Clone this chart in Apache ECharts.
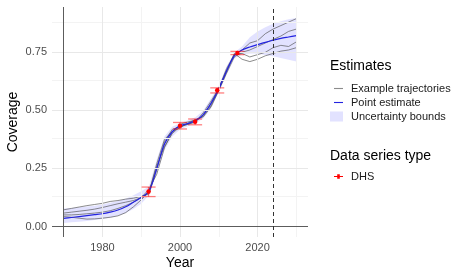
<!DOCTYPE html>
<html>
<head>
<meta charset="utf-8">
<script src="https://cdn.jsdelivr.net/npm/echarts@6/dist/echarts.min.js"></script>
<style>
  html, body { margin: 0; padding: 0; background: #fff; }
  #main { width: 468px; height: 278px; }
</style>
</head>
<body>
<div id="main"></div>
<script>
// estimate grid (every 2 years)
const years = [1970, 1972, 1974, 1976, 1978, 1980, 1982, 1984, 1986, 1988, 1990, 1992, 1994, 1996, 1998, 2000,
  2002, 2004, 2006, 2008, 2010, 2012, 2014, 2016, 2018, 2020, 2022, 2024, 2026, 2028, 2030];

const pointEstimate = [0.035, 0.039, 0.043, 0.047, 0.051, 0.055, 0.062, 0.071, 0.085, 0.105, 0.125, 0.152, 0.250,
  0.355, 0.408, 0.434, 0.443, 0.456, 0.482, 0.530, 0.592, 0.670, 0.735, 0.760, 0.773, 0.783, 0.793, 0.802, 0.810, 0.816, 0.822];

const boundLower = [0.015, 0.018, 0.021, 0.024, 0.028, 0.032, 0.038, 0.046, 0.058, 0.075, 0.098, 0.135, 0.228,
  0.328, 0.388, 0.418, 0.432, 0.445, 0.465, 0.508, 0.578, 0.652, 0.722, 0.742, 0.745, 0.745, 0.738, 0.733, 0.726, 0.718, 0.710];
const boundUpper = [0.078, 0.080, 0.083, 0.086, 0.090, 0.095, 0.102, 0.110, 0.120, 0.135, 0.152, 0.172, 0.288,
  0.388, 0.430, 0.446, 0.456, 0.470, 0.500, 0.552, 0.606, 0.690, 0.748, 0.775, 0.815, 0.840, 0.858, 0.873, 0.884, 0.892, 0.898];

const trajA = [0.072, 0.078, 0.084, 0.090, 0.095, 0.100, 0.108, 0.112, 0.118, 0.122, 0.130, 0.140, 0.245, 0.365,
  0.418, 0.430, 0.440, 0.452, 0.490, 0.540, 0.595, 0.672, 0.740, 0.760, 0.790, 0.800, 0.830, 0.850, 0.865, 0.880, 0.895];
const trajB = [0.058, 0.062, 0.066, 0.070, 0.075, 0.082, 0.090, 0.098, 0.105, 0.112, 0.125, 0.145, 0.270, 0.375,
  0.410, 0.425, 0.445, 0.460, 0.472, 0.515, 0.585, 0.660, 0.730, 0.750, 0.760, 0.775, 0.790, 0.805, 0.820, 0.840, 0.850];
const trajC = [0.043, 0.040, 0.036, 0.032, 0.033, 0.036, 0.040, 0.046, 0.060, 0.085, 0.115, 0.150, 0.260, 0.345,
  0.400, 0.430, 0.440, 0.450, 0.480, 0.530, 0.595, 0.680, 0.740, 0.745, 0.730, 0.740, 0.750, 0.770, 0.780, 0.775, 0.795];
const trajD = [0.050, 0.050, 0.052, 0.055, 0.058, 0.062, 0.068, 0.078, 0.090, 0.105, 0.125, 0.160, 0.225, 0.340,
  0.405, 0.440, 0.450, 0.458, 0.475, 0.520, 0.590, 0.665, 0.745, 0.720, 0.710, 0.720, 0.735, 0.745, 0.755, 0.760, 0.770];

// DHS survey observations
const dhsYears = [1991.9, 2000.0, 2003.9, 2009.6, 2014.8];
const dhsValues = [0.151, 0.434, 0.451, 0.587, 0.747];
const dhsLower = [0.129, 0.420, 0.438, 0.575, 0.740];
const dhsUpper = [0.170, 0.448, 0.463, 0.597, 0.754];

// axis ticks
const xLabels = [1980, 2000, 2020];
const xMinor = [1990, 2010, 2030];
const yLabels = [0, 0.25, 0.5, 0.75];
const yMinor = [0.125, 0.375, 0.625, 0.875];
const startYear = 1970;
const nowYear = 2024;

const font = '"Liberation Sans", Arial, Helvetica, sans-serif';
const pair = (ys) => years.map((y, i) => [y, ys[i]]);

const majorGrid = { color: '#e8e8e8', width: 1, type: 'solid' };
const minorGrid = { color: '#f3f3f3', width: 1, type: 'solid' };
const refLine = { color: '#5c5c5c', width: 1, type: 'solid' };

const gridLines = []
  .concat(xMinor.map(v => ({ xAxis: v, lineStyle: minorGrid })))
  .concat(yMinor.map(v => ({ yAxis: v, lineStyle: minorGrid })))
  .concat(xLabels.map(v => ({ xAxis: v, lineStyle: majorGrid })))
  .concat(yLabels.slice(1).map(v => ({ yAxis: v, lineStyle: majorGrid })))
  .concat([{ xAxis: startYear, lineStyle: refLine }, { yAxis: 0, lineStyle: refLine }]);

// legend glyphs: short line, and short line with a dot
const lineIcon = 'path://M0,0h9v1.1h-9z';
const dotIcon = 'path://M0,2h9v1.1h-9z M3.2,0.4h2.6v4.3h-2.6z';

const trajStyle = { color: 'rgba(85,85,85,0.68)', width: 1 };
function trajSeries(data) {
  return {
    name: 'Example trajectories', type: 'line', data: pair(data), symbol: 'none',
    lineStyle: trajStyle, itemStyle: { color: trajStyle.color }, z: 3, silent: true
  };
}

const legendText = { fontSize: 11, color: '#1a1a1a', fontFamily: font, padding: [0, 0, 0, 3] };

let chart = echarts.init(document.getElementById('main'));
chart.setOption({
  animation: false,
  textStyle: { fontFamily: font },
  grid: { left: 52, right: 160, top: 7, bottom: 41, containLabel: false, outerBoundsMode: 'none' },
  xAxis: {
    type: 'value', min: 1967, max: 2033,
    name: 'Year', nameLocation: 'middle', nameGap: 19, nameMoveOverlap: false,
    nameTextStyle: { color: '#000', fontSize: 14, fontFamily: font },
    axisLine: { show: false }, axisTick: { show: false }, splitLine: { show: false },
    axisLabel: { customValues: xLabels, color: '#4d4d4d', fontSize: 11, margin: 5, fontFamily: font,
      formatter: v => String(v) }
  },
  yAxis: {
    type: 'value', min: -0.045, max: 0.945,
    name: 'Coverage', nameLocation: 'middle', nameGap: 32, nameMoveOverlap: false,
    nameTextStyle: { color: '#000', fontSize: 14, fontFamily: font },
    axisLine: { show: false }, axisTick: { show: false }, splitLine: { show: false },
    axisLabel: { customValues: yLabels, color: '#4d4d4d', fontSize: 11, margin: 5, fontFamily: font,
      formatter: v => v.toFixed(2) }
  },
  graphic: [
    { type: 'text', left: 330, top: 59, style: { text: 'Estimates', font: '14px ' + font, fill: '#000' } },
    { type: 'text', left: 330, top: 149, style: { text: 'Data series type', font: '14px ' + font, fill: '#000' } }
  ],
  legend: [
    {
      left: 334, top: 83, orient: 'vertical', itemWidth: 9, itemHeight: 10, itemGap: 3, padding: 0,
      selectedMode: false,
      data: [{ name: 'Example trajectories', icon: lineIcon }, { name: 'Point estimate', icon: lineIcon }],
      textStyle: legendText
    },
    {
      left: 330, top: 111, orient: 'vertical', itemWidth: 13, itemHeight: 10, padding: 0,
      selectedMode: false, data: [{ name: 'Uncertainty bounds', icon: 'rect' }],
      textStyle: legendText
    },
    {
      left: 334, top: 171, orient: 'vertical', itemWidth: 9, itemHeight: 10, padding: 0,
      selectedMode: false, data: [{ name: 'DHS', icon: dotIcon }],
      textStyle: legendText
    }
  ],
  series: [
    {
      name: 'grid', type: 'line', data: [], silent: true, z: 0,
      markLine: { silent: true, symbol: ['none', 'none'], label: { show: false }, animation: false, data: gridLines }
    },
    {
      name: 'Uncertainty bounds', type: 'custom', z: 1, silent: true,
      itemStyle: { color: 'rgba(60,60,255,0.15)' },
      data: [[years[0], boundLower[0]]],
      renderItem: (params, api) => {
        const upper = years.map((y, i) => api.coord([y, boundUpper[i]]));
        const lower = years.map((y, i) => api.coord([y, boundLower[i]])).reverse();
        return { type: 'polygon', shape: { points: upper.concat(lower) }, style: { fill: 'rgba(60,60,255,0.15)' } };
      }
    },
    trajSeries(trajA), trajSeries(trajB), trajSeries(trajC), trajSeries(trajD),
    {
      name: 'Point estimate', type: 'line', data: pair(pointEstimate), symbol: 'none', smooth: 0.3,
      lineStyle: { color: '#2323e0', width: 1.2 }, itemStyle: { color: '#2323e0' }, z: 4, silent: true
    },
    {
      name: 'DHS error', type: 'custom', z: 5, silent: true,
      data: dhsYears.map((y, i) => [y, dhsValues[i], dhsLower[i], dhsUpper[i]]),
      renderItem: (params, api) => {
        const x = api.value(0);
        const lo = api.coord([x, api.value(2)]);
        const hi = api.coord([x, api.value(3)]);
        const w = 7;
        const st = { stroke: 'rgba(255,0,0,0.5)', lineWidth: 1.3 };
        return {
          type: 'group', children: [
            { type: 'line', shape: { x1: lo[0], y1: lo[1], x2: hi[0], y2: hi[1] }, style: st },
            { type: 'line', shape: { x1: lo[0] - w, y1: lo[1], x2: lo[0] + w, y2: lo[1] }, style: st },
            { type: 'line', shape: { x1: hi[0] - w, y1: hi[1], x2: hi[0] + w, y2: hi[1] }, style: st }
          ]
        };
      }
    },
    {
      name: 'DHS', type: 'line', data: dhsYears.map((y, i) => [y, dhsValues[i]]),
      symbol: 'circle', symbolSize: 4.5, showSymbol: true, lineStyle: { opacity: 0 },
      itemStyle: { color: '#ff0000' }, z: 6, silent: true
    },
    {
      name: 'now', type: 'line', data: [], silent: true, z: 8,
      markLine: {
        silent: true, symbol: ['none', 'none'], label: { show: false }, animation: false,
        lineStyle: { color: '#333', width: 1, type: [4, 3] },
        data: [{ xAxis: nowYear }]
      }
    }
  ]
});
</script>
</body>
</html>
